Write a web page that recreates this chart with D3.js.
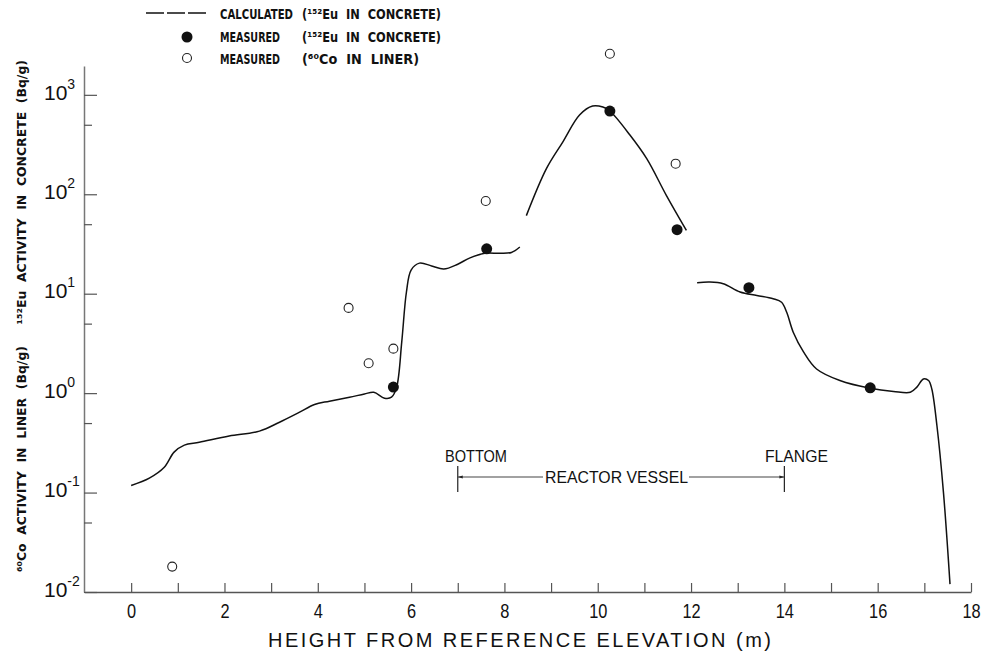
<!DOCTYPE html>
<html>
<head>
<meta charset="utf-8">
<script src="https://cdn.jsdelivr.net/npm/d3@7"></script>
<style>
  html, body { margin: 0; padding: 0; background: #fff; }
  svg { display: block; }
  text.pre { white-space: pre; }
</style>
</head>
<body>
<svg id="chart" width="984" height="656"></svg>
<script>
// Height above reference elevation (m) and activity (Bq/g)
// Calculated 152Eu activity in concrete: three separate curve pieces
const calcLower = [
  [0.00, 0.118], [0.39, 0.14], [0.71, 0.18], [0.92, 0.255], [1.14, 0.30],
  [1.46, 0.32], [2.10, 0.37], [2.75, 0.415], [3.18, 0.51], [3.60, 0.64],
  [3.93, 0.77], [4.25, 0.83], [4.68, 0.91], [5.00, 0.98], [5.20, 1.02],
  [5.43, 0.89], [5.58, 0.91], [5.69, 1.15], [5.80, 3.3], [5.90, 10.4],
  [6.00, 17.3], [6.18, 20.3], [6.44, 19.0], [6.70, 17.7], [7.00, 19.8],
  [7.25, 22.8], [7.58, 25.5], [7.90, 25.5], [8.15, 26.0], [8.33, 29.5]
];
const calcVessel = [
  [8.47, 61], [8.90, 181], [9.25, 335], [9.61, 627], [9.89, 771],
  [10.11, 753], [10.26, 687], [10.69, 394], [11.05, 228], [11.47, 97.5],
  [11.90, 43.3]
];
const calcUpper = [
  [12.13, 12.9], [12.40, 13.1], [12.69, 12.6], [13.05, 10.4], [13.41, 9.6],
  [13.76, 8.9], [13.94, 8.2], [14.05, 6.5], [14.19, 4.1], [14.41, 2.6],
  [14.69, 1.75], [15.19, 1.34], [15.84, 1.12], [16.34, 1.04], [16.70, 1.02],
  [16.84, 1.15], [16.98, 1.39], [17.09, 1.34], [17.16, 1.10], [17.27, 0.47],
  [17.41, 0.10], [17.55, 0.012]
];
// Measured 152Eu in concrete
const euMeasured = [
  [5.62, 1.15], [7.62, 28.3], [10.26, 687], [11.70, 44], [13.24, 11.5], [15.84, 1.13]
];
// Measured 60Co in liner
const coMeasured = [
  [0.88, 0.018], [4.66, 7.2], [5.09, 2.0], [5.62, 2.8], [7.60, 85.5],
  [10.26, 2590], [11.67, 203]
];
const xTicks = d3.range(0, 19);
const yMajor = [1e-2, 1e-1, 1e0, 1e1, 1e2, 1e3];
const yMinor = [5e-2, 5e-1, 5, 50, 500];
const yExp = ["-2", "-1", "0", "1", "2", "3"];

const svg = d3.select("#chart");
const sans = "'Liberation Sans', Arial, Helvetica, sans-serif";
const bold = "'DejaVu Sans Condensed', 'DejaVu Sans', 'Liberation Sans', sans-serif";

const x = d3.scaleLinear().domain([-1, 18]).range([84.5, 971]);
const y = d3.scaleLog().domain([1e-2, Math.pow(10, 3.29)]).range([592, 66]);

// X axis, ticks pointing into the plot
const gx = svg.append("g")
  .attr("transform", "translate(0,592)")
  .call(d3.axisBottom(x).tickValues(xTicks).tickSize(-9).tickSizeOuter(0).tickPadding(11)
    .tickFormat(d => d % 2 === 0 ? d : ""));
gx.select(".domain").attr("stroke", "#555").attr("stroke-width", 1.3);
gx.selectAll(".tick line").attr("stroke", "#555").attr("stroke-width", 1.2);
gx.selectAll(".tick text").attr("font-family", sans).attr("font-size", 21).attr("fill", "#111")
  .attr("transform", "scale(0.78,1)");

// Y axis: decade ticks with labels, half-decade minor ticks
const gy = svg.append("g")
  .attr("transform", "translate(84,0)")
  .call(d3.axisLeft(y).tickValues(yMajor).tickSize(-13).tickSizeOuter(0).tickFormat(""));
gy.select(".domain").attr("stroke", "#777").attr("stroke-width", 1.5);
gy.selectAll(".tick line").attr("stroke", "#555").attr("stroke-width", 1.2);
gy.selectAll(".tick").each(function (d, i) {
  const t = d3.select(this).select("text")
    .attr("font-family", sans).attr("fill", "#111").attr("x", -40).attr("dy", "0.42em")
    .attr("text-anchor", "start");
  t.append("tspan").attr("font-size", 21).text("10");
  t.append("tspan").attr("font-size", 14).attr("dy", "-0.78em").text(yExp[i]);
});
const gyMinor = svg.append("g")
  .attr("transform", "translate(84,0)")
  .call(d3.axisLeft(y).tickValues(yMinor).tickSize(-8).tickFormat(""));
gyMinor.select(".domain").remove();
gyMinor.selectAll(".tick line").attr("stroke", "#555").attr("stroke-width", 1.2);

// Calculated curve
const line = d3.line().x(d => x(d[0])).y(d => y(d[1])).curve(d3.curveCatmullRom.alpha(0.5));
[calcLower, calcVessel, calcUpper].forEach(seg => {
  svg.append("path").datum(seg).attr("d", line)
    .attr("fill", "none").attr("stroke", "#111").attr("stroke-width", 1.5);
});

// Measured points
svg.append("g").selectAll("circle").data(coMeasured).join("circle")
  .attr("cx", d => x(d[0])).attr("cy", d => y(d[1])).attr("r", 4.5)
  .attr("fill", "#fff").attr("stroke", "#222").attr("stroke-width", 1.1);
svg.append("g").selectAll("circle").data(euMeasured).join("circle")
  .attr("cx", d => x(d[0])).attr("cy", d => y(d[1])).attr("r", 5.5)
  .attr("fill", "#111");

// Reactor vessel span
const vessel = [7, 14];
const annY = 477;
const ann = svg.append("g").attr("fill", "#111").attr("font-family", sans);
svg.append("defs").append("marker").attr("id", "arrow").attr("viewBox", "0 0 10 10")
  .attr("refX", 10).attr("refY", 5).attr("markerWidth", 10).attr("markerHeight", 5)
  .attr("markerUnits", "userSpaceOnUse").attr("orient", "auto-start-reverse")
  .append("path").attr("d", "M0,2 L10,5 L0,8 Z").attr("fill", "#222");
vessel.forEach(v => {
  ann.append("line").attr("x1", x(v)).attr("x2", x(v)).attr("y1", 466).attr("y2", 492)
    .attr("stroke", "#222").attr("stroke-width", 1.2);
});
ann.append("line").attr("x1", x(vessel[0])).attr("x2", 543).attr("y1", annY).attr("y2", annY)
  .attr("stroke", "#444").attr("stroke-width", 1.1).attr("marker-start", "url(#arrow)");
ann.append("line").attr("x1", 689).attr("x2", x(vessel[1])).attr("y1", annY).attr("y2", annY)
  .attr("stroke", "#444").attr("stroke-width", 1.1).attr("marker-end", "url(#arrow)");
ann.append("text").attr("x", 545).attr("y", annY).attr("dy", "0.36em")
  .attr("font-size", 17).attr("textLength", 143).attr("lengthAdjust", "spacingAndGlyphs")
  .text("REACTOR VESSEL");
ann.append("text").attr("x", 445).attr("y", 462)
  .attr("font-size", 17).attr("textLength", 62).attr("lengthAdjust", "spacingAndGlyphs").text("BOTTOM");
ann.append("text").attr("x", 765).attr("y", 462)
  .attr("font-size", 17).attr("textLength", 63).attr("lengthAdjust", "spacingAndGlyphs").text("FLANGE");

// Axis titles
svg.append("text").attr("x", 268).attr("y", 647)
  .attr("font-family", sans).attr("font-size", 20).attr("fill", "#111")
  .attr("textLength", 503).attr("lengthAdjust", "spacing")
  .text("HEIGHT FROM REFERENCE ELEVATION (m)");

svg.append("text").attr("class", "pre").attr("transform", "translate(26,572) rotate(-90)")
  .attr("font-family", bold).attr("font-weight", "bold")
  .attr("font-size", 12.5).attr("fill", "#111")
  .attr("textLength", 512).attr("lengthAdjust", "spacingAndGlyphs")
  .text("\u2076\u2070Co  ACTIVITY  IN  LINER  (Bq/g)     \u00b9\u2075\u00b2Eu  ACTIVITY  IN  CONCRETE  (Bq/g)");

// Legend
const leg = svg.append("g").attr("font-family", bold).attr("font-weight", "bold")
  .attr("font-size", 14).attr("fill", "#111");
leg.append("line").attr("x1", 146).attr("x2", 208).attr("y1", 13).attr("y2", 13)
  .attr("stroke", "#111").attr("stroke-width", 1.4).attr("stroke-dasharray", "18,3");
leg.append("circle").attr("cx", 187).attr("cy", 37).attr("r", 5.5).attr("fill", "#111");
leg.append("circle").attr("cx", 187).attr("cy", 58).attr("r", 4.5)
  .attr("fill", "#fff").attr("stroke", "#222").attr("stroke-width", 1.1);
const legendRows = [
  ["CALCULATED", 73, "(\u00b9\u2075\u00b2Eu  IN  CONCRETE)", 139, 14],
  ["MEASURED", 60, "(\u00b9\u2075\u00b2Eu  IN  CONCRETE)", 139, 37],
  ["MEASURED", 60, "(\u2076\u2070Co  IN  LINER)", 117, 59]
];
legendRows.forEach(r => {
  leg.append("text").attr("x", 220).attr("y", r[4]).attr("dy", "0.36em")
    .attr("textLength", r[1]).attr("lengthAdjust", "spacingAndGlyphs").text(r[0]);
  leg.append("text").attr("class", "pre").attr("x", 302).attr("y", r[4]).attr("dy", "0.36em")
    .attr("textLength", r[3]).attr("lengthAdjust", "spacingAndGlyphs").text(r[2]);
});
</script>
</body>
</html>
